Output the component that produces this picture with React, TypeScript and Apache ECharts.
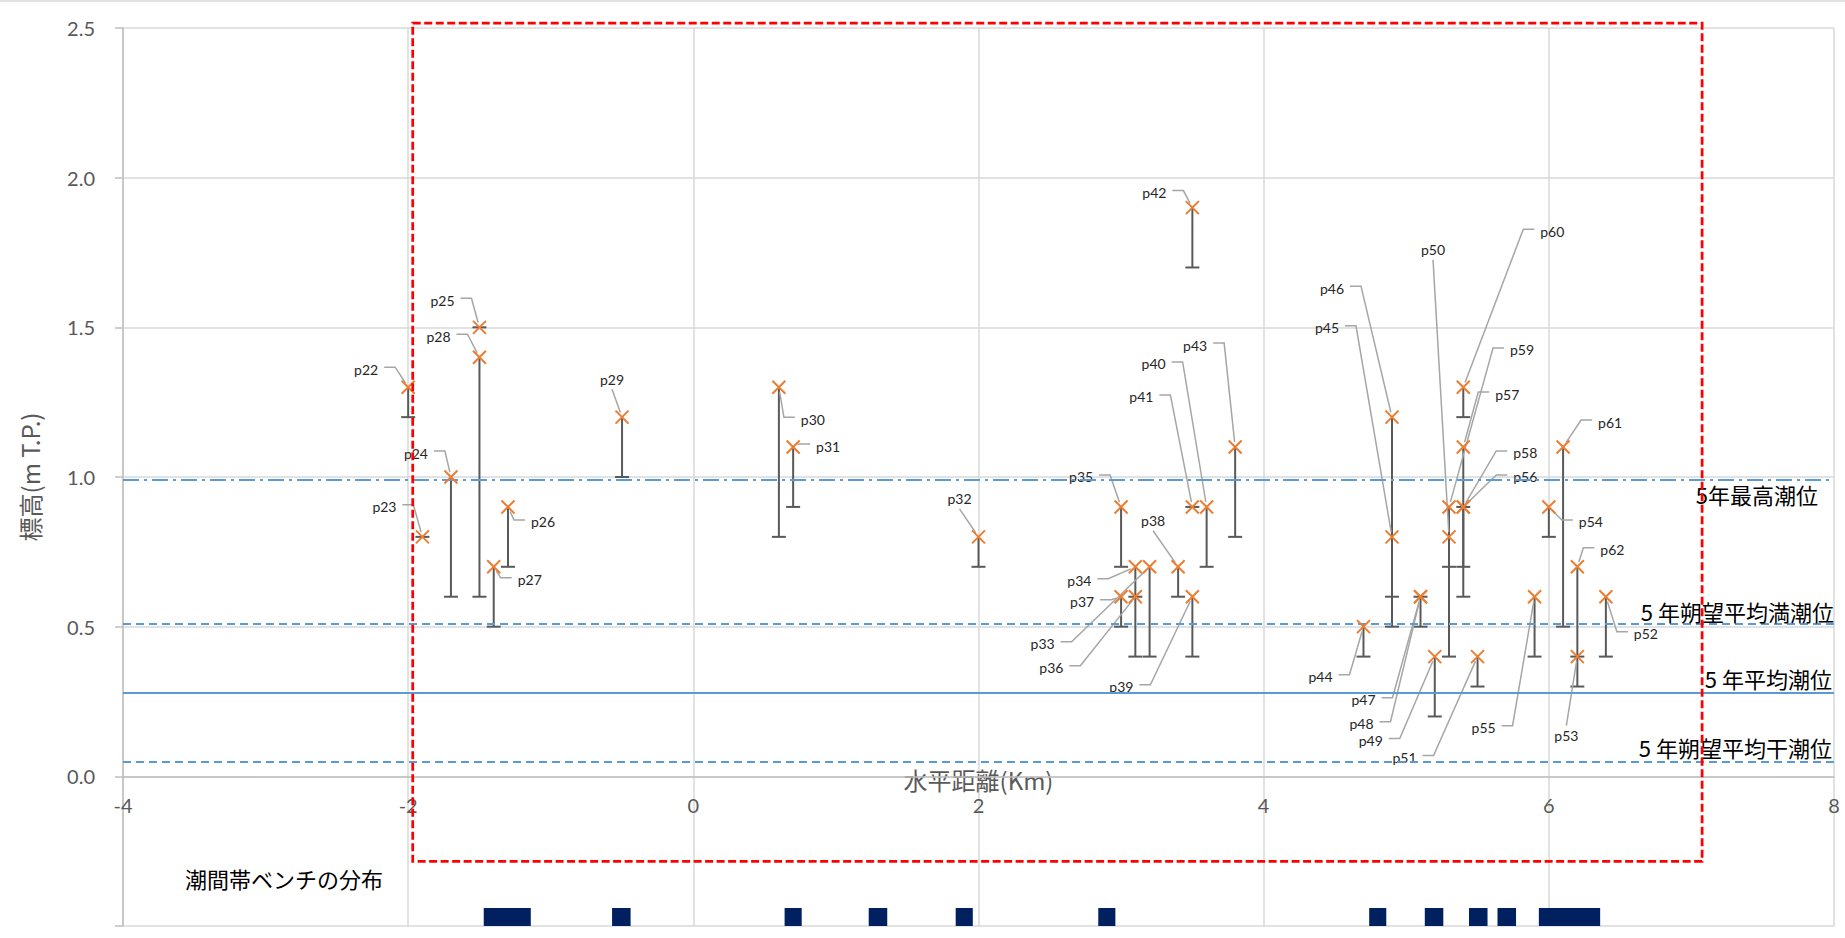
import React, { useEffect, useRef } from 'react';
import * as echarts from 'echarts';

// ---------- data ----------
const pointNames = [
  'p22', 'p23', 'p24', 'p25', 'p26', 'p27', 'p28', 'p29', 'p30', 'p31',
  'p32', 'p33', 'p34', 'p35', 'p36', 'p37', 'p38', 'p39', 'p40', 'p41',
  'p42', 'p43', 'p44', 'p45', 'p46', 'p47', 'p48', 'p49', 'p50', 'p51',
  'p52', 'p53', 'p54', 'p55', 'p56', 'p57', 'p58', 'p59', 'p60', 'p61', 'p62',
];
const distanceKm = [
  -2.0, -1.9, -1.7, -1.5, -1.3, -1.4, -1.5, -0.5, 0.6, 0.7,
  2.0, 3.2, 3.1, 3.0, 3.1, 3.0, 3.4, 3.5, 3.6, 3.5,
  3.5, 3.8, 4.7, 4.9, 4.9, 5.1, 5.1, 5.2, 5.3, 5.5,
  6.4, 6.2, 6.0, 5.9, 5.4, 5.4, 5.4, 5.3, 5.4, 6.1, 6.2,
];
const elevationTop = [
  1.3, 0.8, 1.0, 1.5, 0.9, 0.7, 1.4, 1.2, 1.3, 1.1,
  0.8, 0.7, 0.7, 0.9, 0.6, 0.6, 0.7, 0.6, 0.9, 0.9,
  1.9, 1.1, 0.5, 0.8, 1.2, 0.6, 0.6, 0.4, 0.8, 0.4,
  0.6, 0.4, 0.9, 0.6, 0.9, 1.1, 0.9, 0.9, 1.3, 1.1, 0.7,
];
const elevationLow = [
  1.2, 0.8, 0.6, 1.5, 0.7, 0.5, 0.6, 1.0, 0.8, 0.9,
  0.7, 0.4, 0.4, 0.7, 0.6, 0.5, 0.6, 0.4, 0.7, 0.9,
  1.7, 0.8, 0.4, 0.6, 0.5, 0.5, 0.6, 0.2, 0.4, 0.3,
  0.4, 0.3, 0.8, 0.4, 0.9, 0.6, 0.7, 0.7, 1.2, 0.5, 0.4,
];

const tideLevelNames = ['5年最高潮位', '5 年朔望平均満潮位', '5 年平均潮位', '5 年朔望平均干潮位'];
const tideLevelValues = [0.99, 0.51, 0.28, 0.05];

const benchStartKm = [-1.47, -0.57, 0.64, 1.23, 1.84, 2.84, 4.74, 5.13, 5.44, 5.64, 5.93];
const benchEndKm = [-1.14, -0.44, 0.76, 1.36, 1.96, 2.96, 4.86, 5.26, 5.57, 5.77, 6.36];
const benchLabel = '潮間帯ベンチの分布';

const focusBoxKm = [-1.968, 7.075];
const focusBoxElev = [-0.284, 2.516];

const xMin = -4, xMax = 8, xStep = 2;
const yMin = -0.5, yMax = 2.5, yStep = 0.5;

// ---------- layout / styles (pixels) ----------
const GRID = { left: 123, right: 11, top: 28, bottom: 12 };
const CHART_W = 1845, CHART_H = 938;
const gridH = CHART_H - GRID.top - GRID.bottom;
const xAxisOffset = -((0 - yMin) / (yMax - yMin)) * gridH; // place x axis at elevation 0

const labelOffsets: Record<string, [number, number]> = {
  p22: [-42, -18], p23: [-38, -30], p24: [-35, -24], p25: [-37, -27], p26: [35, 15],
  p27: [36, 13], p28: [-41, -21], p29: [-10, -38], p30: [34, 32], p31: [35, -1],
  p32: [-19, -38], p33: [-107, 77], p34: [-56, 14], p35: [-40, -30], p36: [-84, 71],
  p37: [-39, 5], p38: [-25, -46], p39: [-71, 90], p40: [-53, -143], p41: [-51, -110],
  p42: [-38, -15], p43: [-40, -102], p44: [-43, 50], p45: [-65, -209], p46: [-60, -129],
  p47: [-57, 103], p48: [-59, 127], p49: [-64, 84], p50: [-16, -287], p51: [-73, 101],
  p52: [40, 37], p53: [-11, 79], p54: [42, 15], p55: [-51, 131], p56: [62, -30],
  p57: [44, -53], p58: [62, -54], p59: [73, -157], p60: [89, -156], p61: [47, -25],
  p62: [35, -17],
};
const tideLineTypes: any[] = [[16, 5, 3, 5], [8, 5], 'solid', [8, 5]];
const tideLabelPos = ['insideEndBottom', 'insideEndTop', 'insideEndTop', 'insideEndTop'];
const tideLabelDist: any[] = [[16, 3], [0, 2], [2, 4], [2, 3]];

const LATIN = 'Lato, "Noto Sans CJK JP", sans-serif';
const CJK = '"Noto Sans CJK JP", "Noto Sans", sans-serif';
const GREY_TEXT = '#595959';
const TIDE_BLUE = '#5B9BD5';

export default function App() {
  const ref = useRef<HTMLDivElement>(null);

  useEffect(() => {
    if (!ref.current) return;
    const chart = echarts.init(ref.current, undefined, { renderer: 'svg' });

    const pointRows = pointNames.map((_, i) => [distanceKm[i], elevationTop[i], elevationLow[i]]);

    const option: any = {
      animation: false,
      backgroundColor: '#ffffff',
      grid: { ...GRID, containLabel: false, outerBoundsMode: 'none' },
      xAxis: {
        type: 'value', min: xMin, max: xMax, interval: xStep,
        offset: xAxisOffset,
        axisLine: { show: true, onZero: false, lineStyle: { color: '#BFBFBF', width: 1.5 } },
        axisTick: { show: false },
        axisLabel: { color: GREY_TEXT, fontSize: 20, lineHeight: 20, fontFamily: LATIN, margin: 19 },
        splitLine: { show: true, lineStyle: { color: '#D9D9D9', width: 1.5 } },
        name: '水平距離(Km)', nameLocation: 'middle', nameGap: -9, nameMoveOverlap: false,
        nameTextStyle: { color: GREY_TEXT, fontSize: 24, lineHeight: 24, fontFamily: CJK },
      },
      yAxis: {
        type: 'value', min: yMin, max: yMax, interval: yStep,
        axisLine: { show: true, onZero: false, lineStyle: { color: '#BFBFBF', width: 1.5 } },
        axisTick: { show: true, length: 8, lineStyle: { color: '#BFBFBF', width: 1.5 } },
        axisLabel: {
          color: GREY_TEXT, fontSize: 20, fontFamily: LATIN, margin: 28,
          formatter: (v: number) => (v < 0 ? '' : v.toFixed(1)),
        },
        splitLine: { show: true, lineStyle: { color: '#D9D9D9', width: 1.5 } },
        name: '標高(m T.P.)', nameLocation: 'middle', nameGap: 82, nameMoveOverlap: false,
        nameTextStyle: { color: GREY_TEXT, fontSize: 24, fontFamily: CJK },
      },
      graphic: [
        { type: 'line', shape: { x1: 0, y1: 1, x2: CHART_W, y2: 1 }, style: { stroke: '#D9D9D9', lineWidth: 1.5 }, silent: true },
        {
          type: 'text', left: 185, top: 867, silent: true,
          style: { text: benchLabel, fill: '#000', fontSize: 22, fontFamily: CJK },
        },
      ],
      series: [
        {
          type: 'custom', name: benchLabel, z: 2,
          data: benchStartKm.map((s, i) => [s, benchEndKm[i], yMin]),
          encode: { x: [0, 1], y: 2 },
          renderItem: (_p: any, api: any) => {
            const a = api.coord([api.value(0), api.value(2)]);
            const b = api.coord([api.value(1), api.value(2)]);
            return {
              type: 'rect',
              shape: { x: a[0], y: a[1] - 18, width: b[0] - a[0], height: 18 },
              style: { fill: '#002060' },
            };
          },
        },
        {
          type: 'custom', name: 'error', z: 3,
          data: pointRows,
          encode: { x: 0, y: [1, 2] },
          renderItem: (_p: any, api: any) => {
            const top = api.coord([api.value(0), api.value(1)]);
            const bot = api.coord([api.value(0), api.value(2)]);
            const st = { stroke: '#595959', lineWidth: 2 };
            return {
              type: 'group',
              children: [
                { type: 'line', shape: { x1: top[0], y1: top[1], x2: bot[0], y2: bot[1] }, style: st },
                { type: 'line', shape: { x1: bot[0] - 7, y1: bot[1], x2: bot[0] + 7, y2: bot[1] }, style: st },
              ],
            };
          },
        },
        {
          type: 'custom', name: 'labels', z: 4,
          data: pointRows.map((r) => [r[0], r[1]]),
          encode: { x: 0, y: 1 },
          renderItem: (p: any, api: any) => {
            const name = pointNames[p.dataIndex];
            const pt = api.coord([api.value(0), api.value(1)]);
            const off = labelOffsets[name] || [30, -20];
            const cx = pt[0] + off[0];
            const cy = pt[1] + off[1];
            const halfW = 12, halfH = 7;
            let pts: number[][];
            if (Math.abs(off[0]) > halfW + 14) {
              const dir = off[0] < 0 ? 1 : -1;
              const sx = cx + dir * (halfW + 6);
              const sy = cy - 2;
              let hx = sx + dir * 11;
              if ((pt[0] - hx) * dir < 0) hx = pt[0];
              const vx = pt[0] - hx, vy = pt[1] - sy;
              const L = Math.hypot(vx, vy) || 1;
              const sh = Math.min(5, L);
              pts = [[sx, sy], [hx, sy], [pt[0] - (vx / L) * sh, pt[1] - (vy / L) * sh]];
            } else {
              const sy = off[1] < 0 ? cy + halfH + 3 : cy - halfH - 3;
              const vx = pt[0] - cx, vy = pt[1] - sy;
              const L = Math.hypot(vx, vy) || 1;
              const sh = Math.min(5, L);
              pts = [[cx, sy], [pt[0] - (vx / L) * sh, pt[1] - (vy / L) * sh]];
            }
            return {
              type: 'group',
              children: [
                { type: 'polyline', shape: { points: pts }, style: { stroke: '#A6A6A6', lineWidth: 1.5, fill: null } },
                {
                  type: 'text', x: cx, y: cy,
                  style: { text: name, fill: '#262626', fontSize: 14, fontFamily: LATIN, align: 'center', verticalAlign: 'middle' },
                },
              ],
            };
          },
        },
        {
          type: 'scatter', name: 'points', z: 5,
          data: pointRows.map((r) => [r[0], r[1]]),
          symbol: 'path://M0 0L10 10M10 0L0 10',
          symbolSize: 13,
          itemStyle: { color: 'rgba(0,0,0,0)', borderColor: '#ED7D31', borderWidth: 2, opacity: 1 },
          markLine: {
            silent: true, symbol: ['none', 'none'], animation: false,
            data: tideLevelValues.map((v, i) => ({
              yAxis: v, name: tideLevelNames[i],
              lineStyle: { color: TIDE_BLUE, width: 2, type: tideLineTypes[i] },
              label: {
                show: true, formatter: tideLevelNames[i], position: tideLabelPos[i],
                distance: tideLabelDist[i], color: '#000', fontSize: 22, fontFamily: CJK,
              },
            })),
          },
        },
        {
          type: 'custom', name: 'focus', z: 10, clip: false, silent: true,
          data: [[focusBoxKm[0], focusBoxKm[1], focusBoxElev[0], focusBoxElev[1]]],
          encode: { x: [0, 1], y: [2, 3] },
          renderItem: (_p: any, api: any) => {
            const a = api.coord([api.value(0), api.value(3)]);
            const b = api.coord([api.value(1), api.value(2)]);
            return {
              type: 'rect',
              shape: { x: a[0], y: a[1], width: b[0] - a[0], height: b[1] - a[1] },
              style: { fill: 'none', stroke: '#FF0000', lineWidth: 2.75, lineDash: [8, 3.5] },
            };
          },
        },
      ],
    };

    chart.setOption(option);
    return () => chart.dispose();
  }, []);

  return (
    <div
      ref={ref}
      style={{ position: 'fixed', left: 0, top: 0, width: CHART_W, height: CHART_H, background: '#fff' }}
    />
  );
}
